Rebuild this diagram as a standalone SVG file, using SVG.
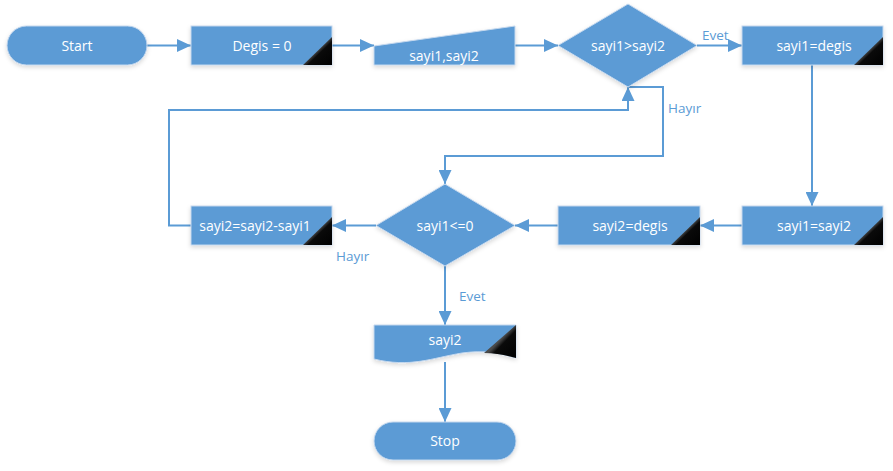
<svg xmlns="http://www.w3.org/2000/svg" width="893" height="471" viewBox="0 0 893 471">
<style>
.shape{fill:#5B9BD5;stroke:#c5d8ee;stroke-width:1;filter:url(#sh)}
.t{font-family:"Open Sans","Noto Sans",sans-serif;font-size:14px;fill:#ffffff;text-anchor:middle}
.lbl{font-family:"Open Sans","Noto Sans",sans-serif;font-size:13.5px;fill:#5B9BD5}
.conn{fill:none;stroke:#5B9BD5;stroke-width:2;marker-end:url(#ah)}
.corner{fill:url(#cg)}
</style>
<defs>
<filter id="sh" x="-10%" y="-20%" width="120%" height="150%">
<feDropShadow dx="0" dy="2" stdDeviation="2" flood-color="#000" flood-opacity="0.15"/>
</filter>
<linearGradient id="cg" x1="0" y1="0" x2="1" y2="1">
<stop offset="0.48" stop-color="#4a4a4a"/>
<stop offset="0.58" stop-color="#0a0a0a"/>
<stop offset="1" stop-color="#000"/>
</linearGradient>
<marker id="ah" markerUnits="userSpaceOnUse" markerWidth="15" markerHeight="13" refX="14" refY="6.5" orient="auto">
<path d="M0,0 L14,6.5 L0,13 Z" fill="#5B9BD5"/>
</marker>
</defs>

<g id="connectors">
<path class="conn" d="M147,45.5 H191"/>
<path class="conn" d="M332,45.5 H374"/>
<path class="conn" d="M515,45.5 H558"/>
<path class="conn" d="M697,45.5 H742"/>
<path class="conn" d="M812,65 V206"/>
<path class="conn" d="M742,225.5 H700"/>
<path class="conn" d="M558,225.5 H515"/>
<path class="conn" d="M376,225.5 H332"/>
<path class="conn" d="M191,225.5 H169 V110 H628 V87"/>
<path class="conn" d="M628,87 H663 V156 H445 V184"/>
<path class="conn" d="M445,265 V325"/>
<path class="conn" d="M445,362 V422"/>
<text class="lbl" x="702" y="40">Evet</text>
<text class="lbl" x="668" y="113">Hayır</text>
<text class="lbl" x="336" y="261">Hayır</text>
<text class="lbl" x="459" y="301">Evet</text>
</g>

<g id="start">
<rect class="shape" x="7" y="26" width="140" height="39" rx="19.5"/>
<text class="t" x="77" y="50.5">Start</text>
</g>

<g id="degis0">
<rect class="shape" x="191" y="26" width="141" height="39"/>
<path class="corner" d="M332,37 V65 H303 Z"/>
<text class="t" x="262" y="50.5">Degis = 0</text>
</g>

<g id="input">
<path class="shape" d="M374,46 L515,26 V65 H374 Z"/>
<text class="t" x="444" y="60.5">sayi1,sayi2</text>
</g>

<g id="dec1">
<path class="shape" d="M628,4 L697,45.5 L628,87 L558,45.5 Z"/>
<text class="t" x="628" y="50.5">sayi1&gt;sayi2</text>
</g>

<g id="sayi1degis">
<rect class="shape" x="742" y="26" width="141" height="39"/>
<path class="corner" d="M883,37 V65 H854 Z"/>
<text class="t" x="814" y="50.5">sayi1=degis</text>
</g>

<g id="sayi1sayi2">
<rect class="shape" x="742" y="206" width="141" height="39"/>
<path class="corner" d="M883,217 V245 H854 Z"/>
<text class="t" x="814" y="230.5">sayi1=sayi2</text>
</g>

<g id="sayi2degis">
<rect class="shape" x="558" y="206" width="142" height="39"/>
<path class="corner" d="M700,217 V245 H671 Z"/>
<text class="t" x="630" y="230.5">sayi2=degis</text>
</g>

<g id="dec2">
<path class="shape" d="M445,184 L515,225.5 L445,266 L376,225.5 Z"/>
<text class="t" x="445" y="230.5">sayi1&lt;=0</text>
</g>

<g id="sub">
<rect class="shape" x="191" y="206" width="141" height="39"/>
<path class="corner" d="M332,217 V245 H303 Z"/>
<text class="t" x="255" y="230.5">sayi2=sayi2-sayi1</text>
</g>

<g id="output">
<path class="shape" d="M374,325 H516 V358 C498,353 484,350 462,353 C432,358 410,368 374,359 Z"/>
<path class="corner" d="M516,325 V358 C505,355 495,353 484,353 Z"/>
<text class="t" x="445" y="345">sayi2</text>
</g>

<g id="stop">
<rect class="shape" x="374" y="422" width="142" height="38" rx="19"/>
<text class="t" x="445" y="446">Stop</text>
</g>
</svg>
